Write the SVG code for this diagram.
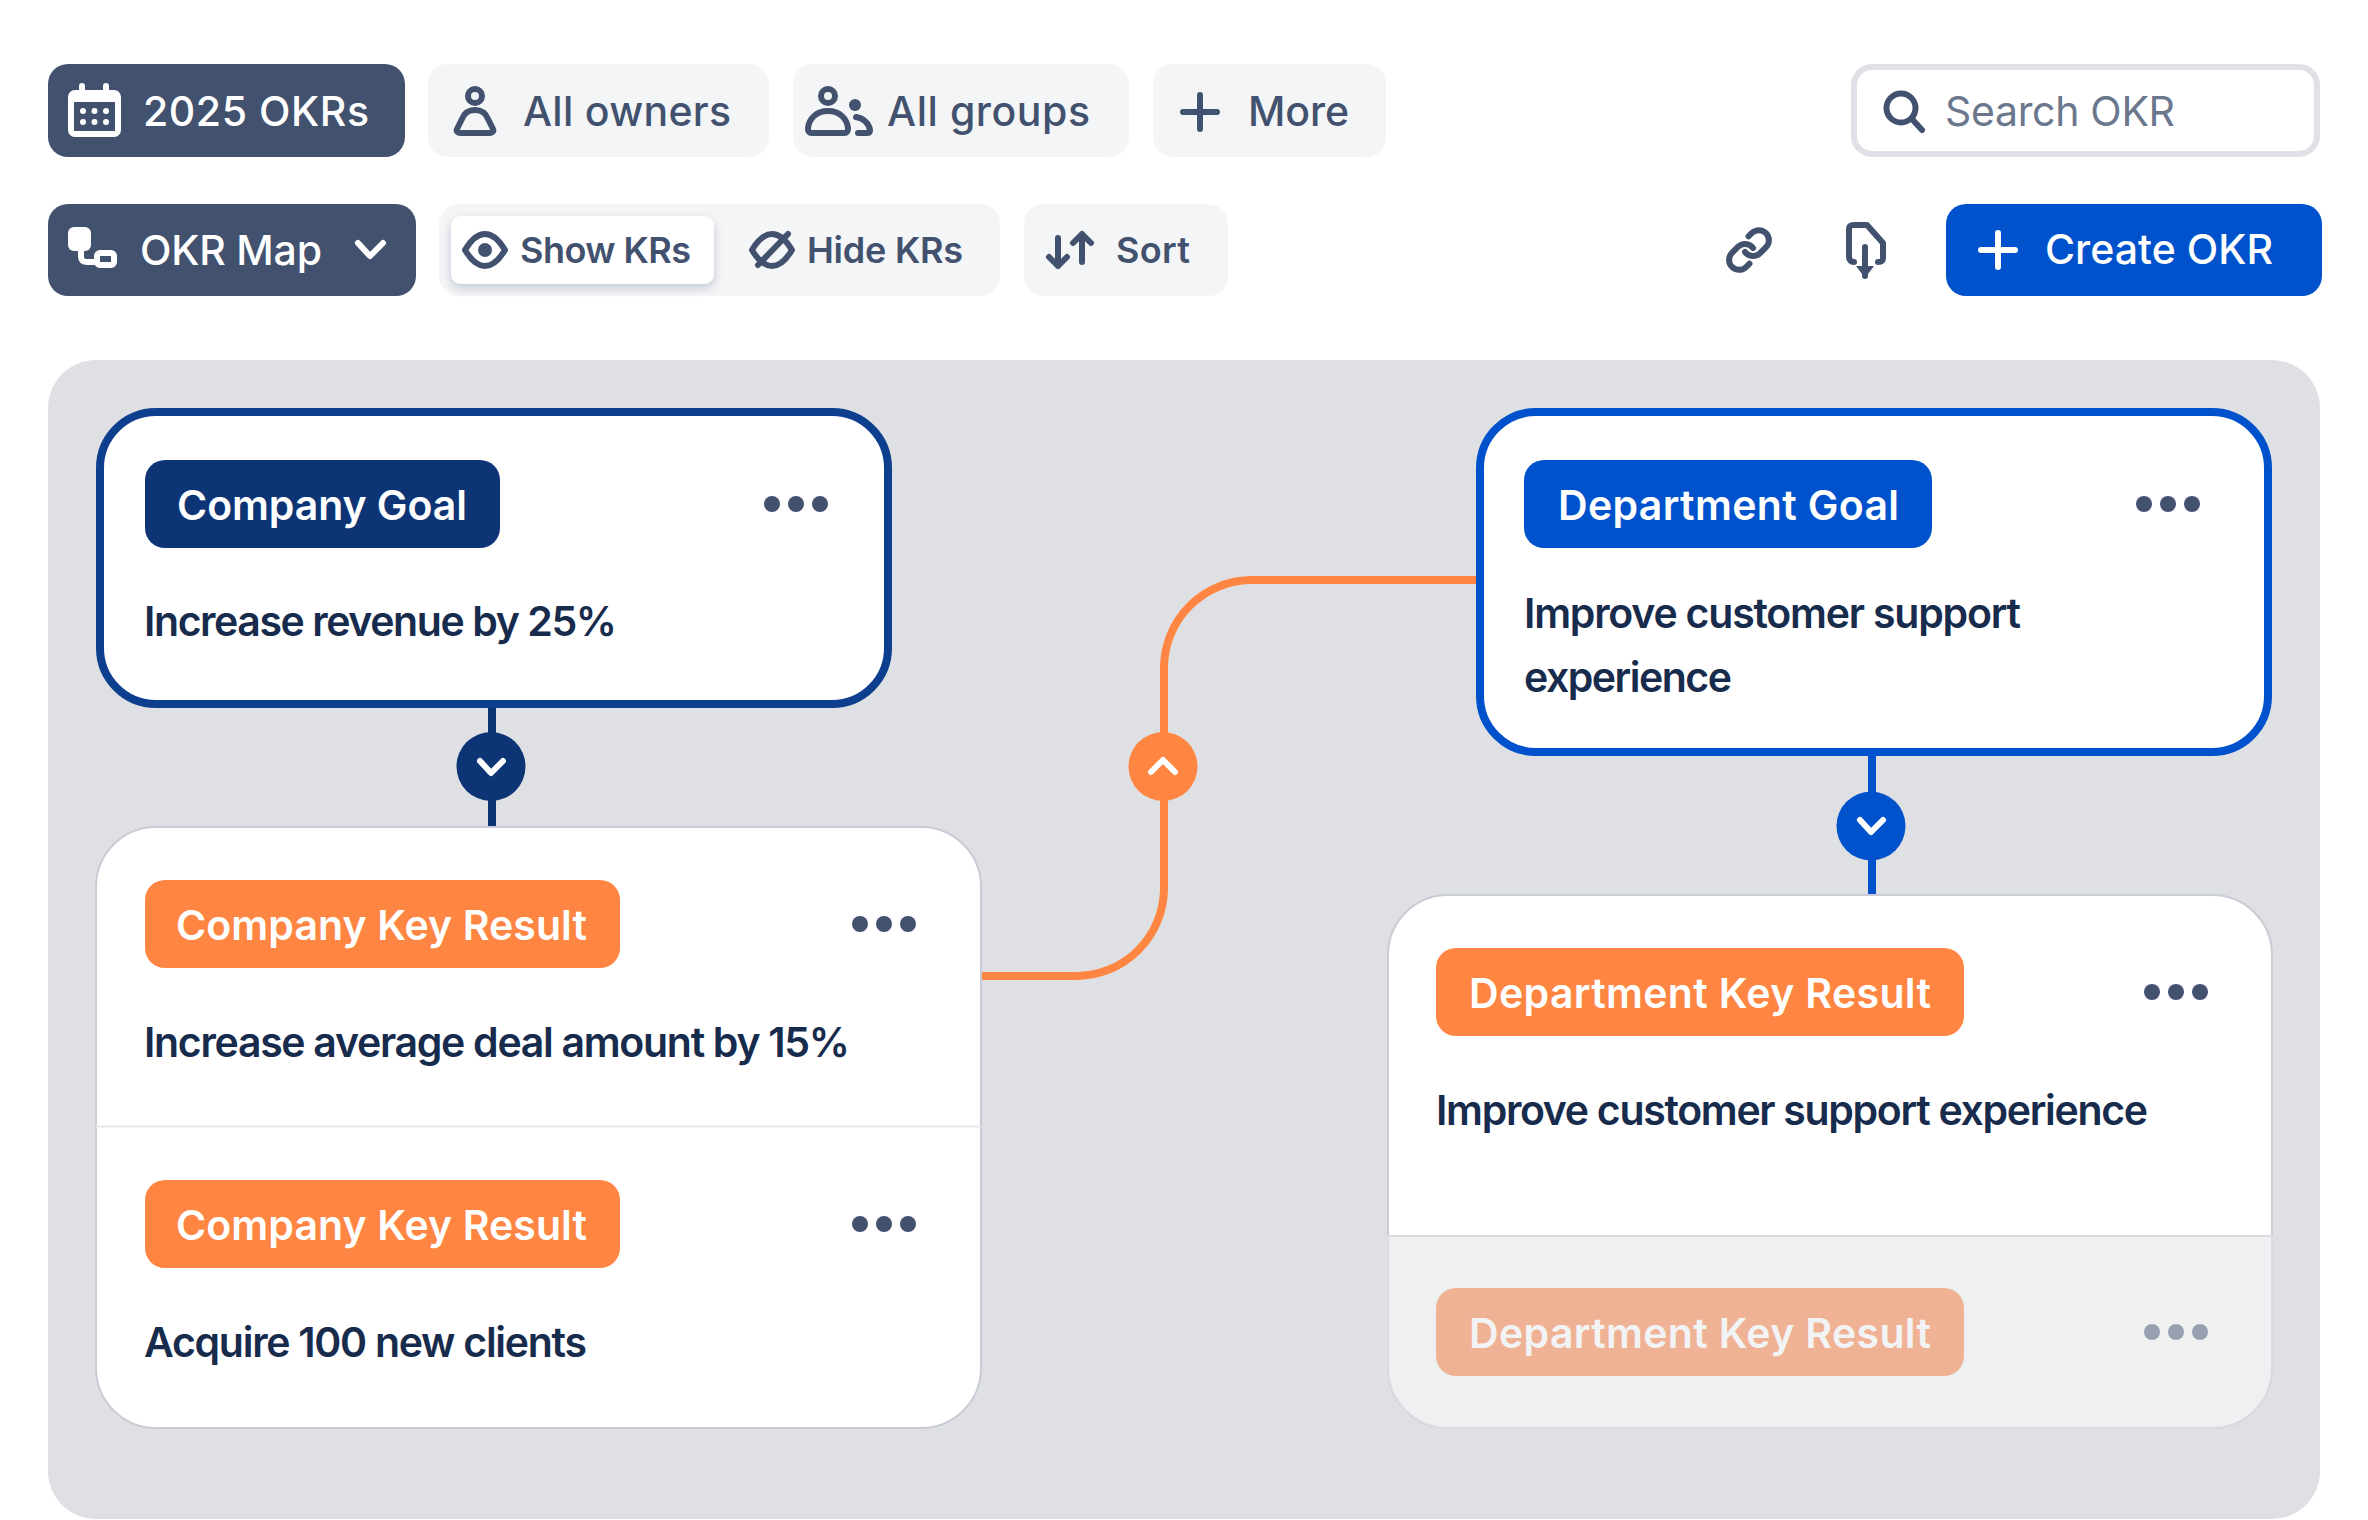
<svg xmlns="http://www.w3.org/2000/svg" width="2368" height="1520" viewBox="0 0 2368 1520">
<style>
text{font-family:"Inter","Liberation Sans",sans-serif}
.bar{font-size:41px;font-weight:500}
.seg{font-size:36px;font-weight:600}
.w{fill:#fff}.g{fill:#42526E}
.tag{font-size:41px;font-weight:600;fill:#fff}
.body{font-size:41px;font-weight:600;fill:#172B4D}
.soft{fill:#F4F5F7}.dark{fill:#42526E}
.card{fill:#fff;stroke:#C9CCD4;stroke-width:2}
.ic{fill:none;stroke:#42526E;stroke-width:6;stroke-linecap:round;stroke-linejoin:round}
.icw{fill:none;stroke:#fff;stroke-width:6;stroke-linecap:round;stroke-linejoin:round}
.dots{fill:#42526E}
.conn{fill:none;stroke-width:8}
</style>
<defs>
<filter id="sh" x="-10%" y="-20%" width="120%" height="150%"><feDropShadow dx="0" dy="4" stdDeviation="5" flood-color="#091E42" flood-opacity=".2"/></filter>
<g id="three"><circle cx="-24" r="8"/><circle r="8"/><circle cx="24" r="8"/></g>
</defs>
<rect width="2368" height="1520" fill="#fff"/>

<g id="filter-okrs"><rect class="dark" x="48" y="64" width="357" height="93" rx="20"/>
<path class="w" d="M74 90h5v-4a3 3 0 0 1 6 0v4h18v-4a3 3 0 0 1 6 0v4h5a7 7 0 0 1 7 7v33a7 7 0 0 1-7 7H75a7 7 0 0 1-7-7V97a7 7 0 0 1 7-7zM74 102v29h41v-29z" fill-rule="evenodd"/>
<g class="w"><circle cx="83" cy="111" r="3"/><circle cx="94.500" cy="111" r="3"/><circle cx="106" cy="111" r="3"/><circle cx="83" cy="122" r="3"/><circle cx="94.500" cy="122" r="3"/><circle cx="106" cy="122" r="3"/></g>
<text class="bar w" x="143" y="126" textLength="226">2025 OKRs</text></g>

<g id="filter-owners"><rect class="soft" x="428" y="64" width="341" height="93" rx="20"/>
<circle class="ic" cx="475" cy="96" r="7"/><path class="ic" d="M475 110c-8 0-11 4-13 9l-5 10c-1 2 .5 4 3 4h30c2.500 0 4-2 3-4l-5-10c-2-5-5-9-13-9z"/>
<text class="bar g" x="523" y="126" textLength="208">All owners</text></g>

<g id="filter-groups"><rect class="soft" x="793" y="64" width="336" height="93" rx="20"/>
<circle class="ic" cx="828" cy="96" r="7"/><path class="ic" d="M828 111c-12 0-19 8-20 17-.3 3 1 5 4 5h32c3 0 4.300-2 4-5-1-9-8-17-20-17z"/>
<circle class="g" cx="855" cy="105" r="6"/><path class="ic" d="M856 117c8 1 13 7 14 13 0 2-1 3-3 3h-9"/>
<text class="bar g" x="887" y="126" textLength="203">All groups</text></g>

<g id="filter-more"><rect class="soft" x="1153" y="64" width="233" height="93" rx="20"/>
<path class="ic" d="M1200 95v34M1183 112h34"/>
<text class="bar g" x="1248" y="126" textLength="101">More</text></g>

<g id="search"><rect x="1854" y="67" width="463" height="87" rx="18" fill="#fff" stroke="#DFE1E6" stroke-width="6"/>
<circle class="ic" cx="1901" cy="108" r="14.500"/><path class="ic" d="M1912 119l10 11"/>
<text class="bar" fill="#6B778C" style="font-weight:400" x="1945" y="126" textLength="230">Search OKR</text></g>

<g id="view-map"><rect class="dark" x="48" y="204" width="368" height="92" rx="20"/>
<rect class="w" x="68" y="227" width="23" height="24" rx="6"/><path class="icw" d="M81 250v7c0 3 2 5 6 5h8"/><rect x="97" y="253" width="17" height="12" rx="3" fill="none" stroke="#fff" stroke-width="6"/>
<text class="bar w" x="140" y="265" textLength="182">OKR Map</text><path class="icw" d="M358 243l12 13 13-13"/></g>

<g id="kr-toggle"><rect class="soft" x="439" y="204" width="561" height="92" rx="20"/>
<rect x="451" y="216" width="263" height="68" rx="10" fill="#fff" filter="url(#sh)"/>
<path class="ic" d="M465 250c6-10 12-16 20-16s14 6 20 16c-6 10-12 16-20 16s-14-6-20-16z"/><circle class="g" cx="485" cy="250" r="7"/>
<text class="seg g" x="520" y="263" textLength="171">Show KRs</text>
<path class="ic" d="M752 250c6-10 12-16 20-16s14 6 20 16c-6 10-12 16-20 16s-14-6-20-16z"/><path class="ic" d="M758 265l30-31"/>
<text class="seg g" x="807" y="263" textLength="156">Hide KRs</text></g>

<g id="sort"><rect class="soft" x="1024" y="204" width="204" height="92" rx="20"/>
<path class="ic" d="M1058 238v28M1049 257l9 9 9-9M1082 234v28M1073 243l9-9 9 9"/>
<text class="seg g" x="1116" y="263" textLength="74">Sort</text></g>

<g id="link-icon"><path class="ic" transform="translate(1725 226) scale(2)" style="stroke-width:3" d="M10 13a5 5 0 0 0 7.540.540l3-3a5 5 0 0 0-7.070-7.070l-1.720 1.710M14 11a5 5 0 0 0-7.540-.540l-3 3a5 5 0 0 0 7.070 7.070l1.710-1.710"/></g>
<g id="export-icon"><path class="ic" d="M1854 262c-3 0-5-2-5-5v-28c0-3 2-4 5-4h13l16 18v15c0 3-2 4-5 4M1865 247v29"/><path class="g" d="M1856 266h18l-9 12z"/></g>

<g id="create"><rect x="1946" y="204" width="376" height="92" rx="20" fill="#0052CC"/>
<path class="icw" d="M1998 233v34M1981 250h34"/>
<text class="bar w" x="2045" y="264" textLength="228">Create OKR</text></g>

<rect id="panel" x="48" y="360" width="2272" height="1159" rx="48" fill="#DFE0E4"/>

<g id="connectors">
<path class="conn" stroke="#0D3576" d="M492 706V830"/>
<path class="conn" stroke="#0052CC" d="M1872 754V898"/>
<path class="conn" stroke="#FF8642" d="M979 976H1076A88 88 0 0 0 1164 888V668A88 88 0 0 1 1252 580H1479"/>
<circle cx="491" cy="766.500" r="34.500" fill="#0D3576"/><path class="icw" d="M480 761l11 12 12-12"/>
<circle cx="1163" cy="766.500" r="34.500" fill="#FF8642"/><path class="icw" d="M1151 772l12-12 12 12"/>
<circle cx="1871" cy="826" r="34.500" fill="#0052CC"/><path class="icw" d="M1860 820l11 12 12-12"/>
</g>

<g id="company-goal"><rect x="100" y="412" width="788" height="292" rx="56" fill="#fff" stroke="#0E3F8F" stroke-width="8"/>
<rect x="145" y="460" width="355" height="88" rx="20" fill="#0D3576"/>
<text class="tag" x="177" y="520" textLength="290">Company Goal</text>
<use href="#three" class="dots" x="796" y="504"/>
<text class="body" x="144" y="636" textLength="473">Increase revenue by 25%</text></g>

<g id="company-krs"><rect class="card" x="96" y="827" width="885" height="601" rx="60"/>
<path d="M96 1126.500H981" stroke="#E5E7EB" stroke-width="2"/>
<g id="company-kr-1"><rect x="145" y="880" width="475" height="88" rx="20" fill="#FF8642"/>
<text class="tag" x="176" y="940" textLength="411">Company Key Result</text>
<use href="#three" class="dots" x="884" y="924"/>
<text class="body" x="144" y="1057" textLength="706">Increase average deal amount by 15%</text></g>
<g id="company-kr-2"><rect x="145" y="1180" width="475" height="88" rx="20" fill="#FF8642"/>
<text class="tag" x="176" y="1240" textLength="411">Company Key Result</text>
<use href="#three" class="dots" x="884" y="1224"/>
<text class="body" x="144" y="1357" textLength="443">Acquire 100 new clients</text></g></g>

<g id="department-goal"><rect x="1480" y="412" width="788" height="340" rx="56" fill="#fff" stroke="#0052CC" stroke-width="8"/>
<rect x="1524" y="460" width="408" height="88" rx="20" fill="#0052CC"/>
<text class="tag" x="1558" y="520" textLength="341">Department Goal</text>
<use href="#three" class="dots" x="2168" y="504"/>
<text class="body" x="1524" y="628" textLength="497">Improve customer support</text>
<text class="body" x="1524" y="692" textLength="208">experience</text></g>

<g id="department-krs"><rect class="card" x="1388" y="895" width="884" height="533" rx="60"/>
<path d="M1388 1236H2272V1368a60 60 0 0 1-60 60H1448a60 60 0 0 1-60-60z" fill="#EEF0F2" stroke="#D9DBE0" stroke-width="2"/>
<g id="department-kr-1"><rect x="1436" y="948" width="528" height="88" rx="20" fill="#FF8642"/>
<text class="tag" x="1469" y="1008" textLength="462">Department Key Result</text>
<use href="#three" class="dots" x="2176" y="992"/>
<text class="body" x="1436" y="1125" textLength="712">Improve customer support experience</text></g>
<g id="department-kr-2"><rect x="1436" y="1288" width="528" height="88" rx="20" fill="#F0B295"/>
<text class="tag" style="fill:#F2F3F4" x="1469" y="1348" textLength="462">Department Key Result</text>
<use href="#three" fill="#97A0AF" x="2176" y="1332"/></g></g>
</svg>
